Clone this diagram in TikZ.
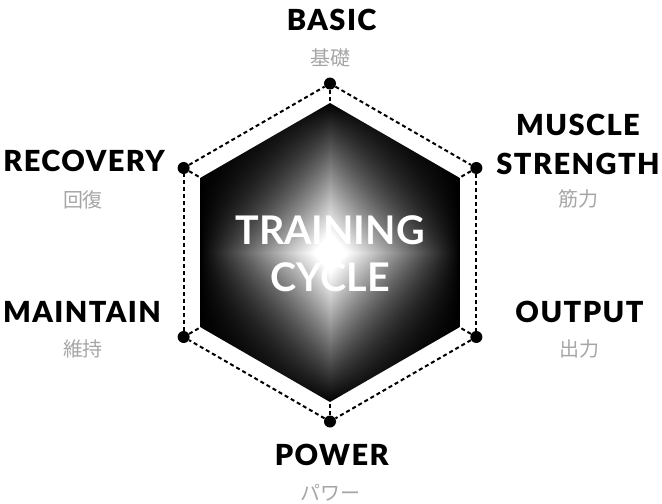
\documentclass[tikz,border=0pt]{standalone}
\usepackage{fontspec}
\setmainfont{Lato}
\newfontfamily\blackfont{Lato Black}[LetterSpace=5]
\newfontfamily\jpfont{Noto Sans CJK JP}
\usetikzlibrary{calc}
\definecolor{jpgray}{RGB}{166,166,166}

% star shaped shine inside the hexagon
\pgfdeclarefunctionalshading{hexshine}{\pgfpoint{-50bp}{-50bp}}{\pgfpoint{50bp}{50bp}}{}{
  abs 25 div dup 1 gt {pop 1} if
  exch abs 25 div dup 1 gt {pop 1} if
  2 copy mul 1 exch sub 2 exp
  3 1 roll
  1 exch sub exch 1 exch sub mul
  mul 1.15 mul dup 1 gt {pop 1} if
  dup dup
}

\tikzset{
  stage/.style={font=\blackfont\fontsize{21.75}{29.25}\selectfont, anchor=base, align=center, inner sep=0pt},
  jp/.style={font=\jpfont\fontsize{15}{18}\selectfont, text=jpgray, anchor=base, inner sep=0pt},
  corner/.style={circle, fill=black, inner sep=0pt, minimum size=9pt},
  link/.style={line width=1.5pt, dash pattern=on 3pt off 2.25pt}
}

\begin{document}
\begin{tikzpicture}[x=0.75pt, y=-0.75pt]
    \useasboundingbox (0,0) rectangle (662,504);
    \coordinate (c) at (330,252.5);

    % Corners
    \foreach \n/\a in {1/-90, 2/-30, 3/30, 4/90, 5/150, 6/210} {
        \node[corner] (o\n) at ($(c)+(\a:169)$) {};
        \coordinate (i\n) at ($(c)+(\a:149.5)$);
    }

    % Hexagon
    \shade[shading=hexshine] (i1) -- (i2) -- (i3) -- (i4) -- (i5) -- (i6) -- cycle;

    % Dashed ring
    \foreach \n/\m in {1/2, 2/3, 3/4, 4/5, 5/6, 6/1} {
        \draw[link] (o\n) -- (o\m);
        \draw[link] (o\n) -- (i\n);
    }

    % Title
    \node[stage, text=white, font=\bfseries\fontsize{29.6}{35.55}\selectfont] (title) at (330,291.7) {TRAINING\\CYCLE};

    % Stages
    \node[stage] (basic) at (331.7,30.7) {BASIC};
    \node[stage] (muscle) at (578,174) {MUSCLE\\STRENGTH};
    \node[stage] (output) at (579.5,322.3) {OUTPUT};
    \node[stage] (power) at (331.7,465) {POWER};
    \node[stage] (maintain) at (82,322.3) {MAINTAIN};
    \node[stage] (recovery) at (84,171.7) {RECOVERY};

    % Japanese
    \node[jp] (basicjp) at (330,65.5) {基礎};
    \node[jp] (musclejp) at (578,206.5) {筋力};
    \node[jp] (outputjp) at (579.5,356.5) {出力};
    \node[jp] (powerjp) at (330,500.5) {パワー};
    \node[jp] (maintainjp) at (83,356.5) {維持};
    \node[jp] (recoveryjp) at (83,207) {回復};
\end{tikzpicture}
\end{document}
